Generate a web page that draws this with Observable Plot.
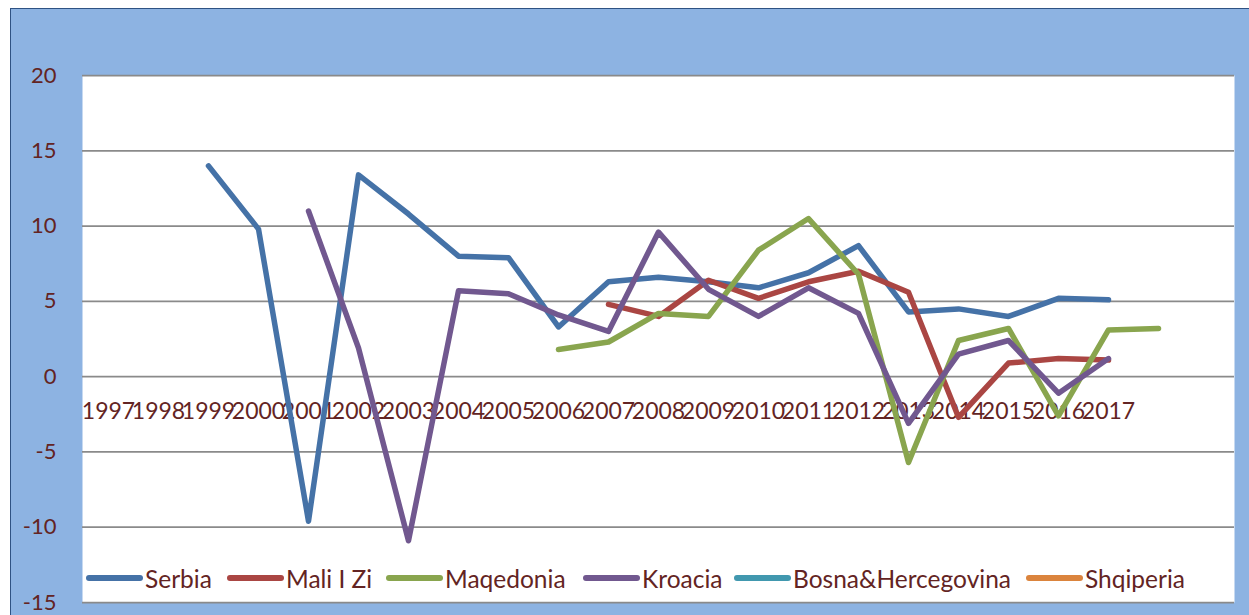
<!DOCTYPE html>
<html><head><meta charset="utf-8">
<script src="https://cdn.jsdelivr.net/npm/d3@7"></script>
<script src="https://cdn.jsdelivr.net/npm/@observablehq/plot@0.6"></script>
<style>
body{margin:0;background:#fff;}
#wrap{position:relative;width:1249px;height:615px;overflow:hidden;background:#fff;}
#bg{position:absolute;left:10px;top:8px;width:1260px;height:620px;background:#8DB3E2;border-left:1.5px solid #2F5283;border-top:1.5px solid #2F5283;}
#chart{position:absolute;left:0;top:0;}
#legend{position:absolute;left:0;top:0;width:1249px;height:615px;pointer-events:none;font-family:Lato,sans-serif;font-size:24.5px;color:#632423;}
.item{position:absolute;top:564px;height:28px;display:flex;align-items:center;white-space:nowrap;}
.sw{width:57px;height:5.5px;border-radius:3px;margin-right:2px;}
</style></head>
<body>
<div id="wrap"><div id="bg"></div><div id="chart"></div><div id="legend"></div></div>
<script>
const years = [1997,1998,1999,2000,2001,2002,2003,2004,2005,2006,2007,2008,2009,2010,2011,2012,2013,2014,2015,2016,2017,2018,2019];
const yearLabels = ["1997","1998","1999","2000","2001","2002","2003","2004","2005","2006","2007","2008","2009","2010","2011","2012","2013","2014","2015","2016","2017"];
const countries = ["Serbia","Mali I Zi","Maqedonia","Kroacia","Bosna&Hercegovina","Shqiperia"];
const colors = ["#4572A7","#AA4643","#89A54E","#71588F","#4198AF","#DB843D"];
const serbia    = [null,null,14.0,9.8,-9.6,13.4,10.8,8.0,7.9,3.3,6.3,6.6,6.3,5.9,6.9,8.7,4.3,4.5,4.0,5.2,5.1,null,null];
const maliIZi   = [null,null,null,null,null,null,null,null,null,null,4.8,4.0,6.4,5.2,6.3,7.0,5.6,-2.7,0.9,1.2,1.1,null,null];
const maqedonia = [null,null,null,null,null,null,null,null,null,1.8,2.3,4.2,4.0,8.4,10.5,6.8,-5.7,2.4,3.2,-2.6,3.1,3.2,null];
const kroacia   = [null,null,null,null,11.0,1.9,-10.9,5.7,5.5,4.1,3.0,9.6,5.8,4.0,5.9,4.2,-3.1,1.5,2.4,-1.1,1.2,null,null];
const bosna     = [];
const shqiperia = [];
const yTicks = [-15,-10,-5,0,5,10,15,20];

const series = [serbia, maliIZi, maqedonia, kroacia, bosna, shqiperia];
const rows = [];
series.forEach((s, i) => s.forEach((v, j) => rows.push({country: countries[i], year: years[j], value: v})));
const labelRows = yearLabels.map(l => ({year: +l, label: l, v: 0}));

const chart = Plot.plot({
  width: 1249, height: 615,
  marginLeft: 82, marginRight: 15, marginTop: 75, marginBottom: 13,
  style: {fontFamily: "Lato, sans-serif", fontSize: "22px", color: "#632423", background: "transparent", overflow: "visible"},
  x: {type: "point", domain: years, padding: 0.5, axis: null},
  y: {domain: [-15, 20], axis: null},
  color: {domain: countries, range: colors},
  marks: [
    Plot.frame({fill: "white", stroke: null}),
    Plot.ruleY(yTicks, {stroke: "#8a8a8a", strokeWidth: 1.75}),
    Plot.axisY({ticks: yTicks, tickSize: 0, tickPadding: 26, fill: "#632423", fontSize: 22, tickFormat: d => String(d)}),
    Plot.text(labelRows, {x: "year", y: "v", text: "label", dy: 35, fill: "#632423", fontSize: 23}),
    Plot.line(rows, {x: "year", y: "value", z: "country", stroke: "country", strokeWidth: 5.5, strokeLinecap: "round", strokeLinejoin: "round"})
  ]
});
document.getElementById("chart").appendChild(chart);

const swX = [86, 227, 386, 583, 734, 1026];
const leg = document.getElementById("legend");
countries.forEach((c, i) => {
  const it = document.createElement("div");
  it.className = "item";
  it.style.left = swX[i] + "px";
  it.innerHTML = `<span class="sw" style="background:${colors[i]}"></span><span>${c}</span>`;
  leg.appendChild(it);
});
</script>
</body></html>
